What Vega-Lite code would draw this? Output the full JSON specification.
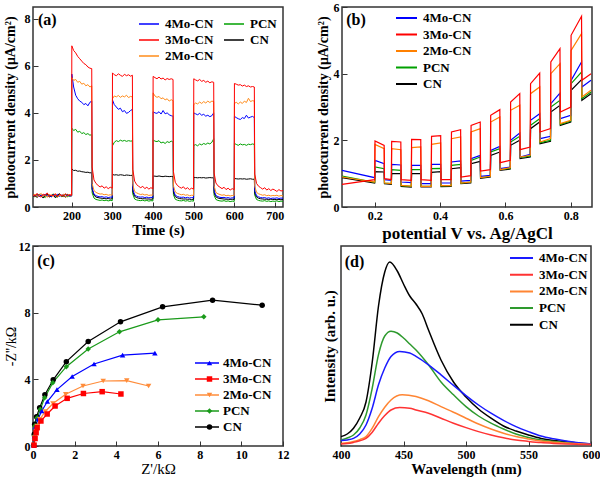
{
"$schema":"https://vega.github.io/schema/vega-lite/v6.json",
"padding":{"left":2,"top":0,"right":0,"bottom":0},
"config":{"font":"Liberation Serif","view":{"stroke":"#333","strokeWidth":1.5},
"axis":{"grid":false,"domain":false,"labelOverlap":false,"labelFlush":false,"labelFont":"Liberation Serif","labelFontSize":12,"labelFontWeight":"bold","labelColor":"#000","titleFont":"Liberation Serif","titleFontWeight":"bold","titleColor":"#000","tickColor":"#333","tickWidth":1,"labelPadding":8,"titlePadding":3},
"legend":{"labelFont":"Liberation Serif","labelFontSize":13,"labelFontWeight":"bold","labelColor":"#000","clipHeight":14,"rowPadding":2,"labelOffset":5,"padding":0}},
"spacing":-3,
"resolve":{"scale":{"color":"independent","shape":"independent","stroke":"independent"},"legend":{"color":"independent","shape":"independent","stroke":"independent"}},
"datasets":{
"pa":[
{"s":"PCN","t":105,"v":0.5},{"s":"PCN","t":110,"v":0.42},{"s":"PCN","t":115,"v":0.55},{"s":"PCN","t":120,"v":0.44},{"s":"PCN","t":125,"v":0.51},{"s":"PCN","t":130,"v":0.47},{"s":"PCN","t":135,"v":0.4},{"s":"PCN","t":140,"v":0.53},{"s":"PCN","t":145,"v":0.49},{"s":"PCN","t":150,"v":0.43},{"s":"PCN","t":155,"v":0.56},{"s":"PCN","t":160,"v":0.46},{"s":"PCN","t":165,"v":0.41},{"s":"PCN","t":170,"v":0.52},{"s":"PCN","t":175,"v":0.48},{"s":"PCN","t":180,"v":0.44},{"s":"PCN","t":185,"v":0.55},{"s":"PCN","t":190,"v":0.43},{"s":"PCN","t":195,"v":0.5},{"s":"PCN","t":200,"v":0.47},
{"s":"PCN","t":200.5,"v":3.35},{"s":"PCN","t":205,"v":3.25},{"s":"PCN","t":210,"v":3.3},{"s":"PCN","t":215,"v":3.18},{"s":"PCN","t":220,"v":3.22},{"s":"PCN","t":225,"v":3.12},{"s":"PCN","t":230,"v":3.16},{"s":"PCN","t":235,"v":3.08},{"s":"PCN","t":240,"v":3.12},{"s":"PCN","t":245,"v":3.05},{"s":"PCN","t":249.5,"v":3.08},
{"s":"PCN","t":250.5,"v":0.6},{"s":"PCN","t":255,"v":0.38},{"s":"PCN","t":260,"v":0.32},{"s":"PCN","t":265,"v":0.3},{"s":"PCN","t":270,"v":0.28},{"s":"PCN","t":275,"v":0.3},{"s":"PCN","t":280,"v":0.27},{"s":"PCN","t":285,"v":0.29},{"s":"PCN","t":290,"v":0.26},{"s":"PCN","t":295,"v":0.28},{"s":"PCN","t":300,"v":0.27},
{"s":"PCN","t":300.5,"v":2.6},{"s":"PCN","t":305,"v":2.75},{"s":"PCN","t":310,"v":2.82},{"s":"PCN","t":315,"v":2.78},{"s":"PCN","t":320,"v":2.84},{"s":"PCN","t":325,"v":2.8},{"s":"PCN","t":330,"v":2.83},{"s":"PCN","t":335,"v":2.79},{"s":"PCN","t":340,"v":2.82},{"s":"PCN","t":345,"v":2.8},{"s":"PCN","t":349.5,"v":2.81},
{"s":"PCN","t":350.5,"v":0.55},{"s":"PCN","t":355,"v":0.34},{"s":"PCN","t":360,"v":0.3},{"s":"PCN","t":365,"v":0.28},{"s":"PCN","t":370,"v":0.27},{"s":"PCN","t":375,"v":0.29},{"s":"PCN","t":380,"v":0.26},{"s":"PCN","t":385,"v":0.28},{"s":"PCN","t":390,"v":0.25},{"s":"PCN","t":395,"v":0.27},{"s":"PCN","t":400,"v":0.26},
{"s":"PCN","t":400.5,"v":2.85},{"s":"PCN","t":405,"v":2.8},{"s":"PCN","t":410,"v":2.78},{"s":"PCN","t":415,"v":2.82},{"s":"PCN","t":420,"v":2.72},{"s":"PCN","t":425,"v":2.76},{"s":"PCN","t":430,"v":2.7},{"s":"PCN","t":435,"v":2.78},{"s":"PCN","t":440,"v":2.74},{"s":"PCN","t":445,"v":2.8},{"s":"PCN","t":449.5,"v":2.76},
{"s":"PCN","t":450.5,"v":0.52},{"s":"PCN","t":455,"v":0.33},{"s":"PCN","t":460,"v":0.29},{"s":"PCN","t":465,"v":0.27},{"s":"PCN","t":470,"v":0.26},{"s":"PCN","t":475,"v":0.28},{"s":"PCN","t":480,"v":0.25},{"s":"PCN","t":485,"v":0.27},{"s":"PCN","t":490,"v":0.24},{"s":"PCN","t":495,"v":0.26},{"s":"PCN","t":500,"v":0.25},
{"s":"PCN","t":500.5,"v":2.62},{"s":"PCN","t":505,"v":2.65},{"s":"PCN","t":510,"v":2.6},{"s":"PCN","t":515,"v":2.68},{"s":"PCN","t":520,"v":2.64},{"s":"PCN","t":525,"v":2.7},{"s":"PCN","t":530,"v":2.66},{"s":"PCN","t":535,"v":2.72},{"s":"PCN","t":540,"v":2.68},{"s":"PCN","t":545,"v":2.75},{"s":"PCN","t":549.5,"v":2.9},
{"s":"PCN","t":550.5,"v":0.5},{"s":"PCN","t":555,"v":0.32},{"s":"PCN","t":560,"v":0.28},{"s":"PCN","t":565,"v":0.26},{"s":"PCN","t":570,"v":0.25},{"s":"PCN","t":575,"v":0.27},{"s":"PCN","t":580,"v":0.24},{"s":"PCN","t":585,"v":0.26},{"s":"PCN","t":590,"v":0.23},{"s":"PCN","t":595,"v":0.25},{"s":"PCN","t":600,"v":0.24},
{"s":"PCN","t":600.5,"v":2.7},{"s":"PCN","t":605,"v":2.66},{"s":"PCN","t":610,"v":2.62},{"s":"PCN","t":615,"v":2.68},{"s":"PCN","t":620,"v":2.64},{"s":"PCN","t":625,"v":2.66},{"s":"PCN","t":630,"v":2.62},{"s":"PCN","t":635,"v":2.67},{"s":"PCN","t":640,"v":2.65},{"s":"PCN","t":645,"v":2.68},{"s":"PCN","t":649.5,"v":2.66},
{"s":"PCN","t":650.5,"v":0.5},{"s":"PCN","t":655,"v":0.32},{"s":"PCN","t":660,"v":0.28},{"s":"PCN","t":665,"v":0.26},{"s":"PCN","t":670,"v":0.25},{"s":"PCN","t":675,"v":0.27},{"s":"PCN","t":680,"v":0.24},{"s":"PCN","t":685,"v":0.26},{"s":"PCN","t":690,"v":0.23},{"s":"PCN","t":695,"v":0.25},{"s":"PCN","t":700,"v":0.24},{"s":"PCN","t":705,"v":0.26},{"s":"PCN","t":710,"v":0.23},{"s":"PCN","t":715,"v":0.25},{"s":"PCN","t":720,"v":0.24},
{"s":"CN","t":105,"v":0.45},{"s":"CN","t":110,"v":0.52},{"s":"CN","t":115,"v":0.4},{"s":"CN","t":120,"v":0.55},{"s":"CN","t":125,"v":0.48},{"s":"CN","t":130,"v":0.38},{"s":"CN","t":135,"v":0.5},{"s":"CN","t":140,"v":0.56},{"s":"CN","t":145,"v":0.42},{"s":"CN","t":150,"v":0.47},{"s":"CN","t":155,"v":0.53},{"s":"CN","t":160,"v":0.39},{"s":"CN","t":165,"v":0.49},{"s":"CN","t":170,"v":0.57},{"s":"CN","t":175,"v":0.44},{"s":"CN","t":180,"v":0.5},{"s":"CN","t":185,"v":0.41},{"s":"CN","t":190,"v":0.54},{"s":"CN","t":195,"v":0.46},{"s":"CN","t":200,"v":0.48},
{"s":"CN","t":200.5,"v":1.62},{"s":"CN","t":205,"v":1.55},{"s":"CN","t":210,"v":1.56},{"s":"CN","t":215,"v":1.52},{"s":"CN","t":220,"v":1.53},{"s":"CN","t":225,"v":1.5},{"s":"CN","t":230,"v":1.49},{"s":"CN","t":235,"v":1.47},{"s":"CN","t":240,"v":1.48},{"s":"CN","t":245,"v":1.45},{"s":"CN","t":249.5,"v":1.46},
{"s":"CN","t":250.5,"v":0.75},{"s":"CN","t":255,"v":0.5},{"s":"CN","t":260,"v":0.42},{"s":"CN","t":265,"v":0.4},{"s":"CN","t":270,"v":0.38},{"s":"CN","t":275,"v":0.37},{"s":"CN","t":280,"v":0.36},{"s":"CN","t":285,"v":0.35},{"s":"CN","t":290,"v":0.36},{"s":"CN","t":295,"v":0.34},{"s":"CN","t":300,"v":0.35},
{"s":"CN","t":300.5,"v":1.38},{"s":"CN","t":305,"v":1.36},{"s":"CN","t":310,"v":1.37},{"s":"CN","t":315,"v":1.35},{"s":"CN","t":320,"v":1.37},{"s":"CN","t":325,"v":1.36},{"s":"CN","t":330,"v":1.34},{"s":"CN","t":335,"v":1.36},{"s":"CN","t":340,"v":1.35},{"s":"CN","t":345,"v":1.34},{"s":"CN","t":349.5,"v":1.35},
{"s":"CN","t":350.5,"v":0.65},{"s":"CN","t":355,"v":0.45},{"s":"CN","t":360,"v":0.4},{"s":"CN","t":365,"v":0.37},{"s":"CN","t":370,"v":0.36},{"s":"CN","t":375,"v":0.35},{"s":"CN","t":380,"v":0.35},{"s":"CN","t":385,"v":0.34},{"s":"CN","t":390,"v":0.34},{"s":"CN","t":395,"v":0.33},{"s":"CN","t":400,"v":0.34},
{"s":"CN","t":400.5,"v":1.32},{"s":"CN","t":405,"v":1.31},{"s":"CN","t":410,"v":1.3},{"s":"CN","t":415,"v":1.32},{"s":"CN","t":420,"v":1.3},{"s":"CN","t":425,"v":1.29},{"s":"CN","t":430,"v":1.31},{"s":"CN","t":435,"v":1.3},{"s":"CN","t":440,"v":1.29},{"s":"CN","t":445,"v":1.3},{"s":"CN","t":449.5,"v":1.29},
{"s":"CN","t":450.5,"v":0.62},{"s":"CN","t":455,"v":0.44},{"s":"CN","t":460,"v":0.39},{"s":"CN","t":465,"v":0.36},{"s":"CN","t":470,"v":0.35},{"s":"CN","t":475,"v":0.34},{"s":"CN","t":480,"v":0.34},{"s":"CN","t":485,"v":0.33},{"s":"CN","t":490,"v":0.33},{"s":"CN","t":495,"v":0.32},{"s":"CN","t":500,"v":0.33},
{"s":"CN","t":500.5,"v":1.26},{"s":"CN","t":505,"v":1.25},{"s":"CN","t":510,"v":1.24},{"s":"CN","t":515,"v":1.25},{"s":"CN","t":520,"v":1.24},{"s":"CN","t":525,"v":1.25},{"s":"CN","t":530,"v":1.23},{"s":"CN","t":535,"v":1.24},{"s":"CN","t":540,"v":1.25},{"s":"CN","t":545,"v":1.24},{"s":"CN","t":549.5,"v":1.24},
{"s":"CN","t":550.5,"v":0.6},{"s":"CN","t":555,"v":0.43},{"s":"CN","t":560,"v":0.38},{"s":"CN","t":565,"v":0.36},{"s":"CN","t":570,"v":0.35},{"s":"CN","t":575,"v":0.34},{"s":"CN","t":580,"v":0.33},{"s":"CN","t":585,"v":0.33},{"s":"CN","t":590,"v":0.32},{"s":"CN","t":595,"v":0.33},{"s":"CN","t":600,"v":0.32},
{"s":"CN","t":600.5,"v":1.21},{"s":"CN","t":605,"v":1.2},{"s":"CN","t":610,"v":1.19},{"s":"CN","t":615,"v":1.2},{"s":"CN","t":620,"v":1.19},{"s":"CN","t":625,"v":1.2},{"s":"CN","t":630,"v":1.18},{"s":"CN","t":635,"v":1.19},{"s":"CN","t":640,"v":1.2},{"s":"CN","t":645,"v":1.18},{"s":"CN","t":649.5,"v":1.18},
{"s":"CN","t":650.5,"v":0.58},{"s":"CN","t":655,"v":0.42},{"s":"CN","t":660,"v":0.37},{"s":"CN","t":665,"v":0.35},{"s":"CN","t":670,"v":0.34},{"s":"CN","t":675,"v":0.33},{"s":"CN","t":680,"v":0.33},{"s":"CN","t":685,"v":0.32},{"s":"CN","t":690,"v":0.33},{"s":"CN","t":695,"v":0.32},{"s":"CN","t":700,"v":0.32},{"s":"CN","t":705,"v":0.31},{"s":"CN","t":710,"v":0.32},{"s":"CN","t":715,"v":0.31},{"s":"CN","t":720,"v":0.32},
{"s":"4Mo-CN","t":105,"v":0.5},{"s":"4Mo-CN","t":110,"v":0.47},{"s":"4Mo-CN","t":115,"v":0.53},{"s":"4Mo-CN","t":120,"v":0.44},{"s":"4Mo-CN","t":125,"v":0.5},{"s":"4Mo-CN","t":130,"v":0.49},{"s":"4Mo-CN","t":135,"v":0.55},{"s":"4Mo-CN","t":140,"v":0.46},{"s":"4Mo-CN","t":145,"v":0.51},{"s":"4Mo-CN","t":150,"v":0.43},{"s":"4Mo-CN","t":155,"v":0.52},{"s":"4Mo-CN","t":160,"v":0.48},{"s":"4Mo-CN","t":165,"v":0.54},{"s":"4Mo-CN","t":170,"v":0.45},{"s":"4Mo-CN","t":175,"v":0.5},{"s":"4Mo-CN","t":180,"v":0.52},{"s":"4Mo-CN","t":185,"v":0.46},{"s":"4Mo-CN","t":190,"v":0.5},{"s":"4Mo-CN","t":195,"v":0.48},{"s":"4Mo-CN","t":200,"v":0.48},
{"s":"4Mo-CN","t":200.5,"v":5.65},{"s":"4Mo-CN","t":205,"v":5.1},{"s":"4Mo-CN","t":210,"v":4.75},{"s":"4Mo-CN","t":215,"v":4.6},{"s":"4Mo-CN","t":220,"v":4.5},{"s":"4Mo-CN","t":225,"v":4.45},{"s":"4Mo-CN","t":230,"v":4.35},{"s":"4Mo-CN","t":235,"v":4.4},{"s":"4Mo-CN","t":240,"v":4.3},{"s":"4Mo-CN","t":245,"v":4.45},{"s":"4Mo-CN","t":249.5,"v":4.5},
{"s":"4Mo-CN","t":250.5,"v":0.8},{"s":"4Mo-CN","t":255,"v":0.55},{"s":"4Mo-CN","t":260,"v":0.48},{"s":"4Mo-CN","t":265,"v":0.45},{"s":"4Mo-CN","t":270,"v":0.43},{"s":"4Mo-CN","t":275,"v":0.44},{"s":"4Mo-CN","t":280,"v":0.41},{"s":"4Mo-CN","t":285,"v":0.43},{"s":"4Mo-CN","t":290,"v":0.4},{"s":"4Mo-CN","t":295,"v":0.42},{"s":"4Mo-CN","t":300,"v":0.41},
{"s":"4Mo-CN","t":300.5,"v":4.55},{"s":"4Mo-CN","t":305,"v":4.35},{"s":"4Mo-CN","t":310,"v":4.25},{"s":"4Mo-CN","t":315,"v":4.15},{"s":"4Mo-CN","t":320,"v":4.2},{"s":"4Mo-CN","t":325,"v":4.05},{"s":"4Mo-CN","t":330,"v":4.1},{"s":"4Mo-CN","t":335,"v":3.98},{"s":"4Mo-CN","t":340,"v":4.02},{"s":"4Mo-CN","t":345,"v":4.1},{"s":"4Mo-CN","t":349.5,"v":4.15},
{"s":"4Mo-CN","t":350.5,"v":0.75},{"s":"4Mo-CN","t":355,"v":0.52},{"s":"4Mo-CN","t":360,"v":0.46},{"s":"4Mo-CN","t":365,"v":0.43},{"s":"4Mo-CN","t":370,"v":0.42},{"s":"4Mo-CN","t":375,"v":0.43},{"s":"4Mo-CN","t":380,"v":0.4},{"s":"4Mo-CN","t":385,"v":0.42},{"s":"4Mo-CN","t":390,"v":0.39},{"s":"4Mo-CN","t":395,"v":0.41},{"s":"4Mo-CN","t":400,"v":0.4},
{"s":"4Mo-CN","t":400.5,"v":4.05},{"s":"4Mo-CN","t":405,"v":4.0},{"s":"4Mo-CN","t":410,"v":3.98},{"s":"4Mo-CN","t":415,"v":4.05},{"s":"4Mo-CN","t":420,"v":3.95},{"s":"4Mo-CN","t":425,"v":4.1},{"s":"4Mo-CN","t":430,"v":3.96},{"s":"4Mo-CN","t":435,"v":4.0},{"s":"4Mo-CN","t":440,"v":3.92},{"s":"4Mo-CN","t":445,"v":3.88},{"s":"4Mo-CN","t":449.5,"v":3.86},
{"s":"4Mo-CN","t":450.5,"v":0.72},{"s":"4Mo-CN","t":455,"v":0.5},{"s":"4Mo-CN","t":460,"v":0.45},{"s":"4Mo-CN","t":465,"v":0.42},{"s":"4Mo-CN","t":470,"v":0.41},{"s":"4Mo-CN","t":475,"v":0.42},{"s":"4Mo-CN","t":480,"v":0.39},{"s":"4Mo-CN","t":485,"v":0.41},{"s":"4Mo-CN","t":490,"v":0.38},{"s":"4Mo-CN","t":495,"v":0.4},{"s":"4Mo-CN","t":500,"v":0.39},
{"s":"4Mo-CN","t":500.5,"v":4.0},{"s":"4Mo-CN","t":505,"v":3.96},{"s":"4Mo-CN","t":510,"v":3.92},{"s":"4Mo-CN","t":515,"v":3.98},{"s":"4Mo-CN","t":520,"v":3.9},{"s":"4Mo-CN","t":525,"v":3.94},{"s":"4Mo-CN","t":530,"v":3.86},{"s":"4Mo-CN","t":535,"v":3.9},{"s":"4Mo-CN","t":540,"v":3.84},{"s":"4Mo-CN","t":545,"v":3.88},{"s":"4Mo-CN","t":549.5,"v":4.0},
{"s":"4Mo-CN","t":550.5,"v":0.7},{"s":"4Mo-CN","t":555,"v":0.49},{"s":"4Mo-CN","t":560,"v":0.44},{"s":"4Mo-CN","t":565,"v":0.41},{"s":"4Mo-CN","t":570,"v":0.4},{"s":"4Mo-CN","t":575,"v":0.41},{"s":"4Mo-CN","t":580,"v":0.38},{"s":"4Mo-CN","t":585,"v":0.4},{"s":"4Mo-CN","t":590,"v":0.37},{"s":"4Mo-CN","t":595,"v":0.39},{"s":"4Mo-CN","t":600,"v":0.38},
{"s":"4Mo-CN","t":600.5,"v":3.85},{"s":"4Mo-CN","t":605,"v":3.8},{"s":"4Mo-CN","t":610,"v":3.75},{"s":"4Mo-CN","t":615,"v":3.72},{"s":"4Mo-CN","t":620,"v":3.8},{"s":"4Mo-CN","t":625,"v":3.76},{"s":"4Mo-CN","t":630,"v":3.9},{"s":"4Mo-CN","t":635,"v":3.78},{"s":"4Mo-CN","t":640,"v":3.82},{"s":"4Mo-CN","t":645,"v":3.85},{"s":"4Mo-CN","t":649.5,"v":3.8},
{"s":"4Mo-CN","t":650.5,"v":0.68},{"s":"4Mo-CN","t":655,"v":0.48},{"s":"4Mo-CN","t":660,"v":0.43},{"s":"4Mo-CN","t":665,"v":0.4},{"s":"4Mo-CN","t":670,"v":0.39},{"s":"4Mo-CN","t":675,"v":0.4},{"s":"4Mo-CN","t":680,"v":0.37},{"s":"4Mo-CN","t":685,"v":0.39},{"s":"4Mo-CN","t":690,"v":0.36},{"s":"4Mo-CN","t":695,"v":0.38},{"s":"4Mo-CN","t":700,"v":0.37},{"s":"4Mo-CN","t":705,"v":0.39},{"s":"4Mo-CN","t":710,"v":0.36},{"s":"4Mo-CN","t":715,"v":0.38},{"s":"4Mo-CN","t":720,"v":0.37},
{"s":"2Mo-CN","t":105,"v":0.48},{"s":"2Mo-CN","t":110,"v":0.55},{"s":"2Mo-CN","t":115,"v":0.44},{"s":"2Mo-CN","t":120,"v":0.5},{"s":"2Mo-CN","t":125,"v":0.58},{"s":"2Mo-CN","t":130,"v":0.46},{"s":"2Mo-CN","t":135,"v":0.52},{"s":"2Mo-CN","t":140,"v":0.41},{"s":"2Mo-CN","t":145,"v":0.54},{"s":"2Mo-CN","t":150,"v":0.49},{"s":"2Mo-CN","t":155,"v":0.45},{"s":"2Mo-CN","t":160,"v":0.57},{"s":"2Mo-CN","t":165,"v":0.43},{"s":"2Mo-CN","t":170,"v":0.51},{"s":"2Mo-CN","t":175,"v":0.47},{"s":"2Mo-CN","t":180,"v":0.55},{"s":"2Mo-CN","t":185,"v":0.42},{"s":"2Mo-CN","t":190,"v":0.5},{"s":"2Mo-CN","t":195,"v":0.53},{"s":"2Mo-CN","t":200,"v":0.5},
{"s":"2Mo-CN","t":200.5,"v":5.5},{"s":"2Mo-CN","t":205,"v":5.38},{"s":"2Mo-CN","t":210,"v":5.42},{"s":"2Mo-CN","t":215,"v":5.3},{"s":"2Mo-CN","t":220,"v":5.34},{"s":"2Mo-CN","t":225,"v":5.22},{"s":"2Mo-CN","t":230,"v":5.26},{"s":"2Mo-CN","t":235,"v":5.15},{"s":"2Mo-CN","t":240,"v":5.2},{"s":"2Mo-CN","t":245,"v":5.1},{"s":"2Mo-CN","t":249.5,"v":5.15},
{"s":"2Mo-CN","t":250.5,"v":1.0},{"s":"2Mo-CN","t":255,"v":0.7},{"s":"2Mo-CN","t":260,"v":0.62},{"s":"2Mo-CN","t":265,"v":0.58},{"s":"2Mo-CN","t":270,"v":0.55},{"s":"2Mo-CN","t":275,"v":0.56},{"s":"2Mo-CN","t":280,"v":0.52},{"s":"2Mo-CN","t":285,"v":0.54},{"s":"2Mo-CN","t":290,"v":0.5},{"s":"2Mo-CN","t":295,"v":0.52},{"s":"2Mo-CN","t":300,"v":0.5},
{"s":"2Mo-CN","t":300.5,"v":4.6},{"s":"2Mo-CN","t":305,"v":4.72},{"s":"2Mo-CN","t":310,"v":4.68},{"s":"2Mo-CN","t":315,"v":4.74},{"s":"2Mo-CN","t":320,"v":4.66},{"s":"2Mo-CN","t":325,"v":4.72},{"s":"2Mo-CN","t":330,"v":4.68},{"s":"2Mo-CN","t":335,"v":4.75},{"s":"2Mo-CN","t":340,"v":4.65},{"s":"2Mo-CN","t":345,"v":4.7},{"s":"2Mo-CN","t":349.5,"v":4.68},
{"s":"2Mo-CN","t":350.5,"v":0.95},{"s":"2Mo-CN","t":355,"v":0.66},{"s":"2Mo-CN","t":360,"v":0.6},{"s":"2Mo-CN","t":365,"v":0.56},{"s":"2Mo-CN","t":370,"v":0.53},{"s":"2Mo-CN","t":375,"v":0.55},{"s":"2Mo-CN","t":380,"v":0.51},{"s":"2Mo-CN","t":385,"v":0.53},{"s":"2Mo-CN","t":390,"v":0.49},{"s":"2Mo-CN","t":395,"v":0.51},{"s":"2Mo-CN","t":400,"v":0.5},
{"s":"2Mo-CN","t":400.5,"v":4.85},{"s":"2Mo-CN","t":405,"v":4.72},{"s":"2Mo-CN","t":410,"v":4.66},{"s":"2Mo-CN","t":415,"v":4.7},{"s":"2Mo-CN","t":420,"v":4.6},{"s":"2Mo-CN","t":425,"v":4.64},{"s":"2Mo-CN","t":430,"v":4.55},{"s":"2Mo-CN","t":435,"v":4.6},{"s":"2Mo-CN","t":440,"v":4.5},{"s":"2Mo-CN","t":445,"v":4.56},{"s":"2Mo-CN","t":449.5,"v":4.52},
{"s":"2Mo-CN","t":450.5,"v":0.9},{"s":"2Mo-CN","t":455,"v":0.64},{"s":"2Mo-CN","t":460,"v":0.58},{"s":"2Mo-CN","t":465,"v":0.55},{"s":"2Mo-CN","t":470,"v":0.52},{"s":"2Mo-CN","t":475,"v":0.54},{"s":"2Mo-CN","t":480,"v":0.5},{"s":"2Mo-CN","t":485,"v":0.52},{"s":"2Mo-CN","t":490,"v":0.48},{"s":"2Mo-CN","t":495,"v":0.5},{"s":"2Mo-CN","t":500,"v":0.49},
{"s":"2Mo-CN","t":500.5,"v":4.35},{"s":"2Mo-CN","t":505,"v":4.42},{"s":"2Mo-CN","t":510,"v":4.38},{"s":"2Mo-CN","t":515,"v":4.46},{"s":"2Mo-CN","t":520,"v":4.4},{"s":"2Mo-CN","t":525,"v":4.48},{"s":"2Mo-CN","t":530,"v":4.42},{"s":"2Mo-CN","t":535,"v":4.5},{"s":"2Mo-CN","t":540,"v":4.44},{"s":"2Mo-CN","t":545,"v":4.5},{"s":"2Mo-CN","t":549.5,"v":4.48},
{"s":"2Mo-CN","t":550.5,"v":0.9},{"s":"2Mo-CN","t":555,"v":0.62},{"s":"2Mo-CN","t":560,"v":0.56},{"s":"2Mo-CN","t":565,"v":0.53},{"s":"2Mo-CN","t":570,"v":0.5},{"s":"2Mo-CN","t":575,"v":0.52},{"s":"2Mo-CN","t":580,"v":0.48},{"s":"2Mo-CN","t":585,"v":0.5},{"s":"2Mo-CN","t":590,"v":0.47},{"s":"2Mo-CN","t":595,"v":0.49},{"s":"2Mo-CN","t":600,"v":0.48},
{"s":"2Mo-CN","t":600.5,"v":4.4},{"s":"2Mo-CN","t":605,"v":4.45},{"s":"2Mo-CN","t":610,"v":4.38},{"s":"2Mo-CN","t":615,"v":4.46},{"s":"2Mo-CN","t":620,"v":4.4},{"s":"2Mo-CN","t":625,"v":4.5},{"s":"2Mo-CN","t":630,"v":4.44},{"s":"2Mo-CN","t":635,"v":4.62},{"s":"2Mo-CN","t":640,"v":4.48},{"s":"2Mo-CN","t":645,"v":4.52},{"s":"2Mo-CN","t":649.5,"v":4.5},
{"s":"2Mo-CN","t":650.5,"v":0.88},{"s":"2Mo-CN","t":655,"v":0.62},{"s":"2Mo-CN","t":660,"v":0.56},{"s":"2Mo-CN","t":665,"v":0.53},{"s":"2Mo-CN","t":670,"v":0.5},{"s":"2Mo-CN","t":675,"v":0.52},{"s":"2Mo-CN","t":680,"v":0.48},{"s":"2Mo-CN","t":685,"v":0.5},{"s":"2Mo-CN","t":690,"v":0.47},{"s":"2Mo-CN","t":695,"v":0.49},{"s":"2Mo-CN","t":700,"v":0.48},{"s":"2Mo-CN","t":705,"v":0.5},{"s":"2Mo-CN","t":710,"v":0.46},{"s":"2Mo-CN","t":715,"v":0.49},{"s":"2Mo-CN","t":720,"v":0.47},
{"s":"3Mo-CN","t":105,"v":0.52},{"s":"3Mo-CN","t":110,"v":0.45},{"s":"3Mo-CN","t":115,"v":0.58},{"s":"3Mo-CN","t":120,"v":0.47},{"s":"3Mo-CN","t":125,"v":0.42},{"s":"3Mo-CN","t":130,"v":0.55},{"s":"3Mo-CN","t":135,"v":0.49},{"s":"3Mo-CN","t":140,"v":0.6},{"s":"3Mo-CN","t":145,"v":0.44},{"s":"3Mo-CN","t":150,"v":0.51},{"s":"3Mo-CN","t":155,"v":0.47},{"s":"3Mo-CN","t":160,"v":0.56},{"s":"3Mo-CN","t":165,"v":0.43},{"s":"3Mo-CN","t":170,"v":0.53},{"s":"3Mo-CN","t":175,"v":0.5},{"s":"3Mo-CN","t":180,"v":0.46},{"s":"3Mo-CN","t":185,"v":0.57},{"s":"3Mo-CN","t":190,"v":0.48},{"s":"3Mo-CN","t":195,"v":0.52},{"s":"3Mo-CN","t":200,"v":0.5},
{"s":"3Mo-CN","t":200.5,"v":6.85},{"s":"3Mo-CN","t":205,"v":6.65},{"s":"3Mo-CN","t":210,"v":6.55},{"s":"3Mo-CN","t":215,"v":6.4},{"s":"3Mo-CN","t":220,"v":6.3},{"s":"3Mo-CN","t":225,"v":6.2},{"s":"3Mo-CN","t":230,"v":6.1},{"s":"3Mo-CN","t":235,"v":6.05},{"s":"3Mo-CN","t":240,"v":5.95},{"s":"3Mo-CN","t":245,"v":5.9},{"s":"3Mo-CN","t":249.5,"v":5.88},
{"s":"3Mo-CN","t":250.5,"v":1.7},{"s":"3Mo-CN","t":255,"v":1.15},{"s":"3Mo-CN","t":260,"v":1.0},{"s":"3Mo-CN","t":265,"v":0.92},{"s":"3Mo-CN","t":270,"v":0.85},{"s":"3Mo-CN","t":275,"v":0.9},{"s":"3Mo-CN","t":280,"v":0.8},{"s":"3Mo-CN","t":285,"v":0.86},{"s":"3Mo-CN","t":290,"v":0.78},{"s":"3Mo-CN","t":295,"v":0.84},{"s":"3Mo-CN","t":300,"v":0.8},
{"s":"3Mo-CN","t":300.5,"v":5.7},{"s":"3Mo-CN","t":305,"v":5.62},{"s":"3Mo-CN","t":310,"v":5.58},{"s":"3Mo-CN","t":315,"v":5.66},{"s":"3Mo-CN","t":320,"v":5.6},{"s":"3Mo-CN","t":325,"v":5.55},{"s":"3Mo-CN","t":330,"v":5.64},{"s":"3Mo-CN","t":335,"v":5.58},{"s":"3Mo-CN","t":340,"v":5.62},{"s":"3Mo-CN","t":345,"v":5.56},{"s":"3Mo-CN","t":349.5,"v":5.6},
{"s":"3Mo-CN","t":350.5,"v":1.6},{"s":"3Mo-CN","t":355,"v":1.1},{"s":"3Mo-CN","t":360,"v":0.95},{"s":"3Mo-CN","t":365,"v":0.88},{"s":"3Mo-CN","t":370,"v":0.82},{"s":"3Mo-CN","t":375,"v":0.88},{"s":"3Mo-CN","t":380,"v":0.78},{"s":"3Mo-CN","t":385,"v":0.84},{"s":"3Mo-CN","t":390,"v":0.76},{"s":"3Mo-CN","t":395,"v":0.82},{"s":"3Mo-CN","t":400,"v":0.78},
{"s":"3Mo-CN","t":400.5,"v":5.55},{"s":"3Mo-CN","t":405,"v":5.5},{"s":"3Mo-CN","t":410,"v":5.45},{"s":"3Mo-CN","t":415,"v":5.52},{"s":"3Mo-CN","t":420,"v":5.44},{"s":"3Mo-CN","t":425,"v":5.48},{"s":"3Mo-CN","t":430,"v":5.4},{"s":"3Mo-CN","t":435,"v":5.46},{"s":"3Mo-CN","t":440,"v":5.42},{"s":"3Mo-CN","t":445,"v":5.45},{"s":"3Mo-CN","t":449.5,"v":5.42},
{"s":"3Mo-CN","t":450.5,"v":1.5},{"s":"3Mo-CN","t":455,"v":1.05},{"s":"3Mo-CN","t":460,"v":0.92},{"s":"3Mo-CN","t":465,"v":0.85},{"s":"3Mo-CN","t":470,"v":0.8},{"s":"3Mo-CN","t":475,"v":0.86},{"s":"3Mo-CN","t":480,"v":0.76},{"s":"3Mo-CN","t":485,"v":0.82},{"s":"3Mo-CN","t":490,"v":0.74},{"s":"3Mo-CN","t":495,"v":0.8},{"s":"3Mo-CN","t":500,"v":0.76},
{"s":"3Mo-CN","t":500.5,"v":5.45},{"s":"3Mo-CN","t":505,"v":5.4},{"s":"3Mo-CN","t":510,"v":5.36},{"s":"3Mo-CN","t":515,"v":5.42},{"s":"3Mo-CN","t":520,"v":5.34},{"s":"3Mo-CN","t":525,"v":5.38},{"s":"3Mo-CN","t":530,"v":5.3},{"s":"3Mo-CN","t":535,"v":5.35},{"s":"3Mo-CN","t":540,"v":5.28},{"s":"3Mo-CN","t":545,"v":5.32},{"s":"3Mo-CN","t":549.5,"v":5.3},
{"s":"3Mo-CN","t":550.5,"v":1.45},{"s":"3Mo-CN","t":555,"v":1.02},{"s":"3Mo-CN","t":560,"v":0.9},{"s":"3Mo-CN","t":565,"v":0.84},{"s":"3Mo-CN","t":570,"v":0.78},{"s":"3Mo-CN","t":575,"v":0.84},{"s":"3Mo-CN","t":580,"v":0.74},{"s":"3Mo-CN","t":585,"v":0.8},{"s":"3Mo-CN","t":590,"v":0.72},{"s":"3Mo-CN","t":595,"v":0.78},{"s":"3Mo-CN","t":600,"v":0.74},
{"s":"3Mo-CN","t":600.5,"v":5.25},{"s":"3Mo-CN","t":605,"v":5.22},{"s":"3Mo-CN","t":610,"v":5.18},{"s":"3Mo-CN","t":615,"v":5.2},{"s":"3Mo-CN","t":620,"v":5.14},{"s":"3Mo-CN","t":625,"v":5.18},{"s":"3Mo-CN","t":630,"v":5.12},{"s":"3Mo-CN","t":635,"v":5.15},{"s":"3Mo-CN","t":640,"v":5.1},{"s":"3Mo-CN","t":645,"v":5.12},{"s":"3Mo-CN","t":649.5,"v":5.1},
{"s":"3Mo-CN","t":650.5,"v":1.4},{"s":"3Mo-CN","t":655,"v":1.0},{"s":"3Mo-CN","t":660,"v":0.88},{"s":"3Mo-CN","t":665,"v":0.82},{"s":"3Mo-CN","t":670,"v":0.76},{"s":"3Mo-CN","t":675,"v":0.82},{"s":"3Mo-CN","t":680,"v":0.72},{"s":"3Mo-CN","t":685,"v":0.78},{"s":"3Mo-CN","t":690,"v":0.7},{"s":"3Mo-CN","t":695,"v":0.76},{"s":"3Mo-CN","t":700,"v":0.72},{"s":"3Mo-CN","t":705,"v":0.66},{"s":"3Mo-CN","t":710,"v":0.74},{"s":"3Mo-CN","t":715,"v":0.68},{"s":"3Mo-CN","t":720,"v":0.7}
],
"pb":[
{"s":"CN","x":0.1,"v":0.88},{"s":"CN","x":0.2,"v":0.72},
{"s":"CN","x":0.201,"v":1.06},{"s":"CN","x":0.229,"v":1.05},{"s":"CN","x":0.23,"v":0.7},{"s":"CN","x":0.251,"v":0.68},
{"s":"CN","x":0.252,"v":1.0},{"s":"CN","x":0.28,"v":1.0},{"s":"CN","x":0.281,"v":0.62},{"s":"CN","x":0.312,"v":0.6},
{"s":"CN","x":0.313,"v":1.0},{"s":"CN","x":0.341,"v":1.0},{"s":"CN","x":0.342,"v":0.6},{"s":"CN","x":0.373,"v":0.6},
{"s":"CN","x":0.374,"v":1.04},{"s":"CN","x":0.402,"v":1.06},{"s":"CN","x":0.403,"v":0.61},{"s":"CN","x":0.434,"v":0.62},
{"s":"CN","x":0.435,"v":1.15},{"s":"CN","x":0.463,"v":1.18},{"s":"CN","x":0.464,"v":0.7},{"s":"CN","x":0.494,"v":0.72},
{"s":"CN","x":0.495,"v":1.3},{"s":"CN","x":0.523,"v":1.37},{"s":"CN","x":0.524,"v":0.86},{"s":"CN","x":0.554,"v":0.9},
{"s":"CN","x":0.555,"v":1.55},{"s":"CN","x":0.583,"v":1.65},{"s":"CN","x":0.584,"v":1.1},{"s":"CN","x":0.615,"v":1.14},
{"s":"CN","x":0.616,"v":1.85},{"s":"CN","x":0.644,"v":2.0},{"s":"CN","x":0.645,"v":1.45},{"s":"CN","x":0.676,"v":1.5},
{"s":"CN","x":0.677,"v":2.35},{"s":"CN","x":0.705,"v":2.55},{"s":"CN","x":0.706,"v":1.9},{"s":"CN","x":0.738,"v":1.97},
{"s":"CN","x":0.739,"v":2.85},{"s":"CN","x":0.767,"v":3.05},{"s":"CN","x":0.768,"v":2.45},{"s":"CN","x":0.8,"v":2.55},
{"s":"CN","x":0.801,"v":3.5},{"s":"CN","x":0.833,"v":3.82},{"s":"CN","x":0.834,"v":3.2},{"s":"CN","x":0.862,"v":3.4},
{"s":"PCN","x":0.1,"v":0.93},{"s":"PCN","x":0.2,"v":0.74},
{"s":"PCN","x":0.201,"v":1.2},{"s":"PCN","x":0.229,"v":1.15},{"s":"PCN","x":0.23,"v":0.72},{"s":"PCN","x":0.251,"v":0.7},
{"s":"PCN","x":0.252,"v":1.12},{"s":"PCN","x":0.28,"v":1.1},{"s":"PCN","x":0.281,"v":0.64},{"s":"PCN","x":0.312,"v":0.62},
{"s":"PCN","x":0.313,"v":1.12},{"s":"PCN","x":0.341,"v":1.12},{"s":"PCN","x":0.342,"v":0.62},{"s":"PCN","x":0.373,"v":0.62},
{"s":"PCN","x":0.374,"v":1.15},{"s":"PCN","x":0.402,"v":1.16},{"s":"PCN","x":0.403,"v":0.63},{"s":"PCN","x":0.434,"v":0.64},
{"s":"PCN","x":0.435,"v":1.25},{"s":"PCN","x":0.463,"v":1.28},{"s":"PCN","x":0.464,"v":0.72},{"s":"PCN","x":0.494,"v":0.75},
{"s":"PCN","x":0.495,"v":1.4},{"s":"PCN","x":0.523,"v":1.5},{"s":"PCN","x":0.524,"v":0.88},{"s":"PCN","x":0.554,"v":0.92},
{"s":"PCN","x":0.555,"v":1.65},{"s":"PCN","x":0.583,"v":1.75},{"s":"PCN","x":0.584,"v":1.12},{"s":"PCN","x":0.615,"v":1.16},
{"s":"PCN","x":0.616,"v":1.95},{"s":"PCN","x":0.644,"v":2.12},{"s":"PCN","x":0.645,"v":1.48},{"s":"PCN","x":0.676,"v":1.53},
{"s":"PCN","x":0.677,"v":2.45},{"s":"PCN","x":0.705,"v":2.65},{"s":"PCN","x":0.706,"v":1.93},{"s":"PCN","x":0.738,"v":2.0},
{"s":"PCN","x":0.739,"v":3.0},{"s":"PCN","x":0.767,"v":3.2},{"s":"PCN","x":0.768,"v":2.48},{"s":"PCN","x":0.8,"v":2.58},
{"s":"PCN","x":0.801,"v":3.7},{"s":"PCN","x":0.833,"v":4.05},{"s":"PCN","x":0.834,"v":3.25},{"s":"PCN","x":0.862,"v":3.45},
{"s":"4Mo-CN","x":0.1,"v":1.1},{"s":"4Mo-CN","x":0.2,"v":0.88},
{"s":"4Mo-CN","x":0.201,"v":1.4},{"s":"4Mo-CN","x":0.229,"v":1.3},{"s":"4Mo-CN","x":0.23,"v":0.82},{"s":"4Mo-CN","x":0.251,"v":0.8},
{"s":"4Mo-CN","x":0.252,"v":1.28},{"s":"4Mo-CN","x":0.28,"v":1.26},{"s":"4Mo-CN","x":0.281,"v":0.75},{"s":"4Mo-CN","x":0.312,"v":0.73},
{"s":"4Mo-CN","x":0.313,"v":1.25},{"s":"4Mo-CN","x":0.341,"v":1.25},{"s":"4Mo-CN","x":0.342,"v":0.7},{"s":"4Mo-CN","x":0.373,"v":0.7},
{"s":"4Mo-CN","x":0.374,"v":1.28},{"s":"4Mo-CN","x":0.402,"v":1.28},{"s":"4Mo-CN","x":0.403,"v":0.72},{"s":"4Mo-CN","x":0.434,"v":0.72},
{"s":"4Mo-CN","x":0.435,"v":1.35},{"s":"4Mo-CN","x":0.463,"v":1.38},{"s":"4Mo-CN","x":0.464,"v":0.78},{"s":"4Mo-CN","x":0.494,"v":0.8},
{"s":"4Mo-CN","x":0.495,"v":1.45},{"s":"4Mo-CN","x":0.523,"v":1.55},{"s":"4Mo-CN","x":0.524,"v":0.92},{"s":"4Mo-CN","x":0.554,"v":0.95},
{"s":"4Mo-CN","x":0.555,"v":1.7},{"s":"4Mo-CN","x":0.583,"v":1.82},{"s":"4Mo-CN","x":0.584,"v":1.15},{"s":"4Mo-CN","x":0.615,"v":1.2},
{"s":"4Mo-CN","x":0.616,"v":2.0},{"s":"4Mo-CN","x":0.644,"v":2.22},{"s":"4Mo-CN","x":0.645,"v":1.5},{"s":"4Mo-CN","x":0.676,"v":1.58},
{"s":"4Mo-CN","x":0.677,"v":2.6},{"s":"4Mo-CN","x":0.705,"v":2.8},{"s":"4Mo-CN","x":0.706,"v":2.05},{"s":"4Mo-CN","x":0.738,"v":2.12},
{"s":"4Mo-CN","x":0.739,"v":3.1},{"s":"4Mo-CN","x":0.767,"v":3.42},{"s":"4Mo-CN","x":0.768,"v":2.65},{"s":"4Mo-CN","x":0.8,"v":2.75},
{"s":"4Mo-CN","x":0.801,"v":3.8},{"s":"4Mo-CN","x":0.833,"v":4.35},{"s":"4Mo-CN","x":0.834,"v":3.6},{"s":"4Mo-CN","x":0.862,"v":3.8},
{"s":"2Mo-CN","x":0.1,"v":0.9},{"s":"2Mo-CN","x":0.2,"v":0.75},
{"s":"2Mo-CN","x":0.201,"v":1.88},{"s":"2Mo-CN","x":0.229,"v":1.75},{"s":"2Mo-CN","x":0.23,"v":0.72},{"s":"2Mo-CN","x":0.251,"v":0.7},
{"s":"2Mo-CN","x":0.252,"v":1.75},{"s":"2Mo-CN","x":0.28,"v":1.72},{"s":"2Mo-CN","x":0.281,"v":0.65},{"s":"2Mo-CN","x":0.312,"v":0.63},
{"s":"2Mo-CN","x":0.313,"v":1.78},{"s":"2Mo-CN","x":0.341,"v":1.8},{"s":"2Mo-CN","x":0.342,"v":0.62},{"s":"2Mo-CN","x":0.373,"v":0.62},
{"s":"2Mo-CN","x":0.374,"v":1.88},{"s":"2Mo-CN","x":0.402,"v":1.92},{"s":"2Mo-CN","x":0.403,"v":0.64},{"s":"2Mo-CN","x":0.434,"v":0.64},
{"s":"2Mo-CN","x":0.435,"v":2.05},{"s":"2Mo-CN","x":0.463,"v":2.1},{"s":"2Mo-CN","x":0.464,"v":0.72},{"s":"2Mo-CN","x":0.494,"v":0.75},
{"s":"2Mo-CN","x":0.495,"v":2.25},{"s":"2Mo-CN","x":0.523,"v":2.35},{"s":"2Mo-CN","x":0.524,"v":0.88},{"s":"2Mo-CN","x":0.554,"v":0.92},
{"s":"2Mo-CN","x":0.555,"v":2.55},{"s":"2Mo-CN","x":0.583,"v":2.7},{"s":"2Mo-CN","x":0.584,"v":1.12},{"s":"2Mo-CN","x":0.615,"v":1.18},
{"s":"2Mo-CN","x":0.616,"v":2.9},{"s":"2Mo-CN","x":0.644,"v":3.05},{"s":"2Mo-CN","x":0.645,"v":1.5},{"s":"2Mo-CN","x":0.676,"v":1.55},
{"s":"2Mo-CN","x":0.677,"v":3.4},{"s":"2Mo-CN","x":0.705,"v":3.6},{"s":"2Mo-CN","x":0.706,"v":1.95},{"s":"2Mo-CN","x":0.738,"v":2.05},
{"s":"2Mo-CN","x":0.739,"v":4.0},{"s":"2Mo-CN","x":0.767,"v":4.3},{"s":"2Mo-CN","x":0.768,"v":2.5},{"s":"2Mo-CN","x":0.8,"v":2.6},
{"s":"2Mo-CN","x":0.801,"v":4.7},{"s":"2Mo-CN","x":0.833,"v":5.2},{"s":"2Mo-CN","x":0.834,"v":3.3},{"s":"2Mo-CN","x":0.862,"v":3.5},
{"s":"3Mo-CN","x":0.1,"v":0.68},{"s":"3Mo-CN","x":0.2,"v":0.82},
{"s":"3Mo-CN","x":0.201,"v":1.98},{"s":"3Mo-CN","x":0.229,"v":1.85},{"s":"3Mo-CN","x":0.23,"v":0.85},{"s":"3Mo-CN","x":0.251,"v":0.82},
{"s":"3Mo-CN","x":0.252,"v":1.97},{"s":"3Mo-CN","x":0.28,"v":1.95},{"s":"3Mo-CN","x":0.281,"v":0.82},{"s":"3Mo-CN","x":0.312,"v":0.8},
{"s":"3Mo-CN","x":0.313,"v":2.03},{"s":"3Mo-CN","x":0.341,"v":2.02},{"s":"3Mo-CN","x":0.342,"v":0.82},{"s":"3Mo-CN","x":0.373,"v":0.8},
{"s":"3Mo-CN","x":0.374,"v":2.12},{"s":"3Mo-CN","x":0.402,"v":2.14},{"s":"3Mo-CN","x":0.403,"v":0.82},{"s":"3Mo-CN","x":0.434,"v":0.82},
{"s":"3Mo-CN","x":0.435,"v":2.25},{"s":"3Mo-CN","x":0.463,"v":2.32},{"s":"3Mo-CN","x":0.464,"v":0.9},{"s":"3Mo-CN","x":0.494,"v":0.94},
{"s":"3Mo-CN","x":0.495,"v":2.45},{"s":"3Mo-CN","x":0.523,"v":2.55},{"s":"3Mo-CN","x":0.524,"v":1.08},{"s":"3Mo-CN","x":0.554,"v":1.12},
{"s":"3Mo-CN","x":0.555,"v":2.75},{"s":"3Mo-CN","x":0.583,"v":2.92},{"s":"3Mo-CN","x":0.584,"v":1.33},{"s":"3Mo-CN","x":0.615,"v":1.4},
{"s":"3Mo-CN","x":0.616,"v":3.15},{"s":"3Mo-CN","x":0.644,"v":3.4},{"s":"3Mo-CN","x":0.645,"v":1.72},{"s":"3Mo-CN","x":0.676,"v":1.8},
{"s":"3Mo-CN","x":0.677,"v":3.7},{"s":"3Mo-CN","x":0.705,"v":4.02},{"s":"3Mo-CN","x":0.706,"v":2.25},{"s":"3Mo-CN","x":0.738,"v":2.35},
{"s":"3Mo-CN","x":0.739,"v":4.35},{"s":"3Mo-CN","x":0.767,"v":4.75},{"s":"3Mo-CN","x":0.768,"v":2.85},{"s":"3Mo-CN","x":0.8,"v":3.0},
{"s":"3Mo-CN","x":0.801,"v":5.15},{"s":"3Mo-CN","x":0.833,"v":5.72},{"s":"3Mo-CN","x":0.834,"v":3.8},{"s":"3Mo-CN","x":0.862,"v":4.0}
],
"pc":[
{"s":"CN","x":0.03,"y":0.05},{"s":"CN","x":0.06,"y":0.7},{"s":"CN","x":0.08,"y":1.3},{"s":"CN","x":0.17,"y":1.75},{"s":"CN","x":0.32,"y":2.3},{"s":"CN","x":0.57,"y":3.07},{"s":"CN","x":0.97,"y":3.97},{"s":"CN","x":1.6,"y":5.06},{"s":"CN","x":2.65,"y":6.27},{"s":"CN","x":4.2,"y":7.45},{"s":"CN","x":6.22,"y":8.35},{"s":"CN","x":8.62,"y":8.75},{"s":"CN","x":11.0,"y":8.45},
{"s":"PCN","x":0.03,"y":0.05},{"s":"PCN","x":0.06,"y":0.6},{"s":"PCN","x":0.09,"y":1.2},{"s":"PCN","x":0.2,"y":1.7},{"s":"PCN","x":0.35,"y":2.2},{"s":"PCN","x":0.56,"y":2.9},{"s":"PCN","x":0.95,"y":3.8},{"s":"PCN","x":1.6,"y":4.76},{"s":"PCN","x":2.65,"y":5.82},{"s":"PCN","x":4.15,"y":6.85},{"s":"PCN","x":6.0,"y":7.57},{"s":"PCN","x":8.2,"y":7.75},
{"s":"4Mo-CN","x":0.04,"y":0.05},{"s":"4Mo-CN","x":0.07,"y":0.6},{"s":"4Mo-CN","x":0.12,"y":1.15},{"s":"4Mo-CN","x":0.25,"y":1.65},{"s":"4Mo-CN","x":0.42,"y":2.1},{"s":"4Mo-CN","x":0.69,"y":2.67},{"s":"4Mo-CN","x":1.15,"y":3.38},{"s":"4Mo-CN","x":1.88,"y":4.17},{"s":"4Mo-CN","x":2.93,"y":4.92},{"s":"4Mo-CN","x":4.3,"y":5.45},{"s":"4Mo-CN","x":5.85,"y":5.57},
{"s":"2Mo-CN","x":0.05,"y":0.05},{"s":"2Mo-CN","x":0.09,"y":0.5},{"s":"2Mo-CN","x":0.15,"y":0.9},{"s":"2Mo-CN","x":0.2,"y":1.2},{"s":"2Mo-CN","x":0.33,"y":1.6},{"s":"2Mo-CN","x":0.59,"y":2.07},{"s":"2Mo-CN","x":0.96,"y":2.55},{"s":"2Mo-CN","x":1.57,"y":3.1},{"s":"2Mo-CN","x":2.4,"y":3.6},{"s":"2Mo-CN","x":3.37,"y":3.9},{"s":"2Mo-CN","x":4.5,"y":3.92},{"s":"2Mo-CN","x":5.55,"y":3.6},
{"s":"3Mo-CN","x":0.05,"y":0.05},{"s":"3Mo-CN","x":0.1,"y":0.45},{"s":"3Mo-CN","x":0.15,"y":0.8},{"s":"3Mo-CN","x":0.2,"y":1.1},{"s":"3Mo-CN","x":0.38,"y":1.5},{"s":"3Mo-CN","x":0.68,"y":1.92},{"s":"3Mo-CN","x":1.06,"y":2.4},{"s":"3Mo-CN","x":1.64,"y":2.86},{"s":"3Mo-CN","x":2.42,"y":3.15},{"s":"3Mo-CN","x":3.32,"y":3.26},{"s":"3Mo-CN","x":4.22,"y":3.12}
],
"pd":[
{"s":"CN","w":400,"v":0.047},{"s":"CN","w":405,"v":0.06},{"s":"CN","w":410,"v":0.089},{"s":"CN","w":415,"v":0.14},{"s":"CN","w":420,"v":0.22},{"s":"CN","w":425,"v":0.42},{"s":"CN","w":430,"v":0.7},{"s":"CN","w":435,"v":0.87},{"s":"CN","w":439,"v":0.92},{"s":"CN","w":445,"v":0.875},{"s":"CN","w":450,"v":0.81},{"s":"CN","w":455,"v":0.75},{"s":"CN","w":460,"v":0.71},{"s":"CN","w":465,"v":0.66},{"s":"CN","w":470,"v":0.58},{"s":"CN","w":480,"v":0.43},{"s":"CN","w":490,"v":0.32},{"s":"CN","w":500,"v":0.245},{"s":"CN","w":510,"v":0.185},{"s":"CN","w":520,"v":0.139},{"s":"CN","w":530,"v":0.1},{"s":"CN","w":540,"v":0.075},{"s":"CN","w":550,"v":0.055},{"s":"CN","w":560,"v":0.038},{"s":"CN","w":570,"v":0.028},{"s":"CN","w":580,"v":0.022},{"s":"CN","w":590,"v":0.015},{"s":"CN","w":600,"v":0.01},
{"s":"PCN","w":400,"v":0.03},{"s":"PCN","w":405,"v":0.04},{"s":"PCN","w":410,"v":0.055},{"s":"PCN","w":415,"v":0.09},{"s":"PCN","w":420,"v":0.155},{"s":"PCN","w":425,"v":0.29},{"s":"PCN","w":430,"v":0.457},{"s":"PCN","w":435,"v":0.55},{"s":"PCN","w":440,"v":0.574},{"s":"PCN","w":445,"v":0.565},{"s":"PCN","w":450,"v":0.54},{"s":"PCN","w":455,"v":0.51},{"s":"PCN","w":460,"v":0.48},{"s":"PCN","w":470,"v":0.406},{"s":"PCN","w":480,"v":0.32},{"s":"PCN","w":490,"v":0.256},{"s":"PCN","w":500,"v":0.197},{"s":"PCN","w":510,"v":0.15},{"s":"PCN","w":520,"v":0.114},{"s":"PCN","w":530,"v":0.085},{"s":"PCN","w":540,"v":0.06},{"s":"PCN","w":550,"v":0.043},{"s":"PCN","w":560,"v":0.03},{"s":"PCN","w":570,"v":0.022},{"s":"PCN","w":580,"v":0.017},{"s":"PCN","w":590,"v":0.012},{"s":"PCN","w":600,"v":0.008},
{"s":"4Mo-CN","w":400,"v":0.027},{"s":"4Mo-CN","w":405,"v":0.03},{"s":"4Mo-CN","w":410,"v":0.038},{"s":"4Mo-CN","w":415,"v":0.06},{"s":"4Mo-CN","w":420,"v":0.105},{"s":"4Mo-CN","w":425,"v":0.19},{"s":"4Mo-CN","w":430,"v":0.306},{"s":"4Mo-CN","w":435,"v":0.39},{"s":"4Mo-CN","w":440,"v":0.448},{"s":"4Mo-CN","w":447,"v":0.473},{"s":"4Mo-CN","w":455,"v":0.465},{"s":"4Mo-CN","w":460,"v":0.448},{"s":"4Mo-CN","w":470,"v":0.406},{"s":"4Mo-CN","w":480,"v":0.356},{"s":"4Mo-CN","w":490,"v":0.303},{"s":"4Mo-CN","w":500,"v":0.252},{"s":"4Mo-CN","w":510,"v":0.205},{"s":"4Mo-CN","w":520,"v":0.164},{"s":"4Mo-CN","w":530,"v":0.128},{"s":"4Mo-CN","w":540,"v":0.097},{"s":"4Mo-CN","w":550,"v":0.072},{"s":"4Mo-CN","w":560,"v":0.05},{"s":"4Mo-CN","w":570,"v":0.036},{"s":"4Mo-CN","w":580,"v":0.025},{"s":"4Mo-CN","w":590,"v":0.016},{"s":"4Mo-CN","w":600,"v":0.01},
{"s":"2Mo-CN","w":400,"v":0.013},{"s":"2Mo-CN","w":405,"v":0.016},{"s":"2Mo-CN","w":410,"v":0.022},{"s":"2Mo-CN","w":415,"v":0.032},{"s":"2Mo-CN","w":420,"v":0.047},{"s":"2Mo-CN","w":425,"v":0.089},{"s":"2Mo-CN","w":430,"v":0.147},{"s":"2Mo-CN","w":435,"v":0.194},{"s":"2Mo-CN","w":440,"v":0.23},{"s":"2Mo-CN","w":449,"v":0.256},{"s":"2Mo-CN","w":460,"v":0.247},{"s":"2Mo-CN","w":470,"v":0.226},{"s":"2Mo-CN","w":480,"v":0.197},{"s":"2Mo-CN","w":490,"v":0.169},{"s":"2Mo-CN","w":500,"v":0.139},{"s":"2Mo-CN","w":510,"v":0.11},{"s":"2Mo-CN","w":520,"v":0.085},{"s":"2Mo-CN","w":530,"v":0.064},{"s":"2Mo-CN","w":540,"v":0.047},{"s":"2Mo-CN","w":550,"v":0.035},{"s":"2Mo-CN","w":560,"v":0.025},{"s":"2Mo-CN","w":570,"v":0.019},{"s":"2Mo-CN","w":580,"v":0.015},{"s":"2Mo-CN","w":590,"v":0.011},{"s":"2Mo-CN","w":600,"v":0.008},
{"s":"3Mo-CN","w":400,"v":0.01},{"s":"3Mo-CN","w":405,"v":0.012},{"s":"3Mo-CN","w":410,"v":0.018},{"s":"3Mo-CN","w":415,"v":0.026},{"s":"3Mo-CN","w":420,"v":0.038},{"s":"3Mo-CN","w":425,"v":0.069},{"s":"3Mo-CN","w":430,"v":0.114},{"s":"3Mo-CN","w":435,"v":0.152},{"s":"3Mo-CN","w":440,"v":0.18},{"s":"3Mo-CN","w":447,"v":0.192},{"s":"3Mo-CN","w":455,"v":0.189},{"s":"3Mo-CN","w":460,"v":0.18},{"s":"3Mo-CN","w":470,"v":0.164},{"s":"3Mo-CN","w":480,"v":0.139},{"s":"3Mo-CN","w":490,"v":0.114},{"s":"3Mo-CN","w":500,"v":0.092},{"s":"3Mo-CN","w":510,"v":0.072},{"s":"3Mo-CN","w":520,"v":0.055},{"s":"3Mo-CN","w":530,"v":0.041},{"s":"3Mo-CN","w":540,"v":0.03},{"s":"3Mo-CN","w":550,"v":0.023},{"s":"3Mo-CN","w":560,"v":0.017},{"s":"3Mo-CN","w":570,"v":0.013},{"s":"3Mo-CN","w":580,"v":0.01},{"s":"3Mo-CN","w":590,"v":0.008},{"s":"3Mo-CN","w":600,"v":0.007}
]},
"vconcat":[
{"spacing":29,
"resolve":{"scale":{"color":"independent"},"legend":{"color":"independent"}},
"hconcat":[
{"width":250,"height":200,
"layer":[
{"data":{"name":"pa"},"mark":{"type":"line","strokeWidth":1},
"encoding":{
"x":{"field":"t","type":"quantitative","scale":{"domain":[105,720],"nice":false,"zero":false},"axis":{"title":"Time (s)","titleFontSize":15,"titlePadding":1,"values":[200,300,400,500,600,700],"tickSize":-5}},
"y":{"field":"v","type":"quantitative","scale":{"domain":[0,8.5],"nice":false},"axis":{"title":"photocurrent density (μA/cm²)","titleFontSize":14,"titlePadding":7,"values":[0,1,2,3,4,5,6,7,8],"labelExpr":"datum.value % 2 === 0 ? datum.label : ''","tickSize":{"condition":{"test":"datum.value % 2 === 0","value":-5},"value":-3}}},
"color":{"field":"s","type":"nominal","scale":{"domain":["4Mo-CN","3Mo-CN","2Mo-CN","PCN","CN"],"range":["#0000ff","#ff0000","#ff8c1a","#00a000","#000000"]},"legend":{"title":null,"orient":"none","legendX":105,"legendY":10,"columns":2,"columnPadding":9,"symbolType":"stroke","symbolSize":400,"symbolStrokeWidth":1.5}}}},
{"data":{"values":[{"lab":"(a)"}]},"mark":{"type":"text","align":"left","baseline":"top","fontSize":16,"fontWeight":"bold","font":"Liberation Serif","color":"#000"},
"encoding":{"x":{"datum":117},"y":{"datum":8.3},"text":{"field":"lab"}}}
]},
{"width":250,"height":200,
"layer":[
{"data":{"name":"pb"},"mark":{"type":"line","strokeWidth":1.2},
"encoding":{
"x":{"field":"x","type":"quantitative","scale":{"domain":[0.1,0.865],"nice":false,"zero":false},"axis":{"title":"potential V vs. Ag/AgCl","titleFontSize":17,"titlePadding":4,"values":[0.2,0.4,0.6,0.8],"format":".1f","tickSize":-5}},
"y":{"field":"v","type":"quantitative","scale":{"domain":[0,6],"nice":false},"axis":{"title":"photocurrent density (μA/cm²)","titleFontSize":14,"values":[0,1,2,3,4,5,6],"labelExpr":"datum.value % 2 === 0 ? datum.label : ''","tickSize":{"condition":{"test":"datum.value % 2 === 0","value":-5},"value":-3}}},
"color":{"field":"s","type":"nominal","scale":{"domain":["4Mo-CN","3Mo-CN","2Mo-CN","PCN","CN"],"range":["#0000ff","#ff0000","#ff8000","#00a000","#000000"]},"legend":{"title":null,"orient":"none","legendX":53,"legendY":4,"symbolType":"stroke","symbolSize":441,"symbolStrokeWidth":2,"rowPadding":2.5}}}},
{"data":{"values":[{"lab":"(b)"}]},"mark":{"type":"text","align":"left","baseline":"top","fontSize":16,"fontWeight":"bold","font":"Liberation Serif","color":"#000"},
"encoding":{"x":{"datum":0.113},"y":{"datum":5.86},"text":{"field":"lab"}}}
]}
]},
{"spacing":31,
"resolve":{"scale":{"color":"independent","shape":"independent","stroke":"independent"},"legend":{"color":"independent","shape":"independent","stroke":"independent"}},
"hconcat":[
{"width":250,"height":200,
"layer":[
{"data":{"name":"pc"},"mark":{"type":"line","strokeWidth":1.2},
"encoding":{
"x":{"field":"x","type":"quantitative","scale":{"domain":[0,12],"nice":false},"axis":{"title":"Z'/kΩ","titleFontSize":15,"titleFontWeight":"normal","titlePadding":1,"values":[0,1,2,3,4,5,6,7,8,9,10,11,12],"labelExpr":"datum.value % 2 === 0 ? datum.label : ''","tickSize":{"condition":{"test":"datum.value % 2 === 0","value":-5},"value":-3}}},
"y":{"field":"y","type":"quantitative","scale":{"domain":[0,12],"nice":false},"axis":{"title":"-Z''/kΩ","titleFontSize":14,"titleFontWeight":"normal","titlePadding":0,"values":[0,1,2,3,4,5,6,7,8,9,10,11,12],"labelExpr":"datum.value % 2 === 0 ? datum.label : ''","tickSize":{"condition":{"test":"datum.value % 2 === 0","value":-5},"value":-3}}},
"stroke":{"field":"s","type":"nominal","scale":{"domain":["4Mo-CN","3Mo-CN","2Mo-CN","PCN","CN"],"range":["#0000ff","#ff0000","#ff8c3a","#1a9a1a","#000000"]},"legend":{"title":null,"orient":"none","legendX":161,"legendY":110,"symbolType":"stroke","symbolSize":576,"symbolStrokeWidth":1.5,"labelOffset":3}}}},
{"data":{"name":"pc"},"mark":{"type":"point","filled":true,"size":30,"opacity":1},
"encoding":{
"x":{"field":"x","type":"quantitative"},
"y":{"field":"y","type":"quantitative"},
"color":{"field":"s","type":"nominal","scale":{"domain":["CN","PCN","2Mo-CN","3Mo-CN","4Mo-CN"],"range":["#000000","#1a9a1a","#ff8c3a","#ff0000","#0000ff"]},"legend":{"title":null,"orient":"none","legendX":170,"legendY":110,"labelExpr":"''","symbolSize":30,"values":["4Mo-CN","3Mo-CN","2Mo-CN","PCN","CN"]}},
"shape":{"field":"s","type":"nominal","scale":{"domain":["CN","PCN","2Mo-CN","3Mo-CN","4Mo-CN"],"range":["circle","diamond","triangle-down","square","triangle-up"]},"legend":{"title":null,"orient":"none","legendX":170,"legendY":110,"labelExpr":"''","symbolSize":30,"values":["4Mo-CN","3Mo-CN","2Mo-CN","PCN","CN"]}}}},
{"data":{"values":[{"lab":"(c)"}]},"mark":{"type":"text","align":"left","baseline":"top","fontSize":16,"fontWeight":"bold","font":"Liberation Serif","color":"#000"},
"encoding":{"x":{"datum":0.2},"y":{"datum":11.6},"text":{"field":"lab"}}}
]},
{"width":250,"height":200,
"layer":[
{"data":{"name":"pd"},"mark":{"type":"line","strokeWidth":1.5,"interpolate":"monotone"},
"encoding":{
"x":{"field":"w","type":"quantitative","scale":{"domain":[400,600],"nice":false,"zero":false},"axis":{"title":"Wavelength (nm)","titleFontSize":15,"titlePadding":1,"values":[400,425,450,475,500,525,550,575,600],"labelExpr":"datum.value % 50 === 0 ? datum.label : ''","tickSize":{"condition":{"test":"datum.value % 50 === 0","value":-5},"value":-3}}},
"y":{"field":"v","type":"quantitative","scale":{"domain":[0,1],"nice":false},"axis":{"title":"Intensity (arb. u.)","titleFontSize":15,"ticks":false,"labels":false,"titlePadding":4}},
"color":{"field":"s","type":"nominal","scale":{"domain":["4Mo-CN","3Mo-CN","2Mo-CN","PCN","CN"],"range":["#1a1aff","#ff3333","#ff8533","#2e9a2e","#000000"]},"legend":{"title":null,"orient":"none","legendX":168,"legendY":5,"symbolType":"stroke","symbolSize":529,"symbolStrokeWidth":2,"rowPadding":2.7}}}},
{"data":{"values":[{"lab":"(d)"}]},"mark":{"type":"text","align":"left","baseline":"top","fontSize":16,"fontWeight":"bold","font":"Liberation Serif","color":"#000"},
"encoding":{"x":{"datum":403},"y":{"datum":0.96},"text":{"field":"lab"}}}
]}
]}
]
}
